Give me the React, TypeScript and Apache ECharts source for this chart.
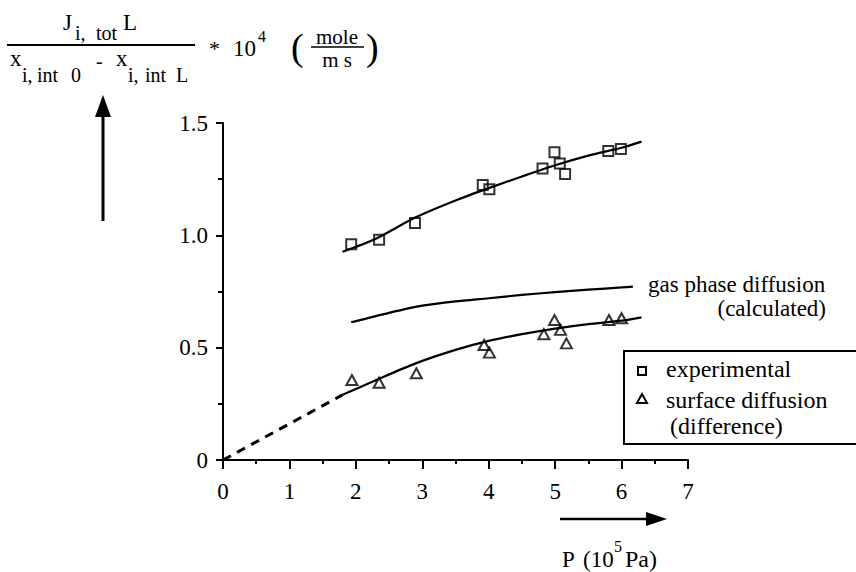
import React, { useEffect, useRef } from "react";
import * as echarts from "echarts";

const xTicks = [0, 1, 2, 3, 4, 5, 6, 7];
const yTicks = [0, 0.5, 1.0, 1.5];

const experimentalX = [1.93, 2.35, 2.89, 3.91, 4.01, 4.81, 4.99, 5.07, 5.15, 5.8, 5.99];
const experimentalY = [0.96, 0.98, 1.055, 1.224, 1.205, 1.298, 1.37, 1.32, 1.273, 1.375, 1.384];

const surfaceX = [1.94, 2.35, 2.91, 3.93, 4.01, 4.83, 4.99, 5.08, 5.17, 5.81, 6.0];
const surfaceY = [0.356, 0.344, 0.386, 0.512, 0.478, 0.56, 0.623, 0.579, 0.519, 0.623, 0.631];

const expFitX = [1.8, 2.3, 2.9, 3.5, 4.0, 4.5, 5.0, 5.5, 6.0, 6.3];
const expFitY = [0.927, 0.985, 1.08, 1.155, 1.21, 1.262, 1.312, 1.355, 1.39, 1.417];

const gasX = [1.93, 2.5, 3.0, 3.5, 4.0, 4.5, 5.0, 5.5, 6.0, 6.17];
const gasY = [0.613, 0.655, 0.687, 0.706, 0.72, 0.735, 0.747, 0.758, 0.768, 0.772];

const surfFitX = [1.8, 2.3, 2.9, 3.5, 4.0, 4.5, 5.0, 5.5, 6.0, 6.3];
const surfFitY = [0.29, 0.355, 0.43, 0.49, 0.53, 0.56, 0.585, 0.605, 0.62, 0.635];

const extrapX = [0, 1.8];
const extrapY = [0, 0.29];

const zip = (xs: number[], ys: number[]) => xs.map((x, i) => [x, ys[i]]);

const FONT = "Liberation Serif";

export default function App() {
  const ref = useRef<HTMLDivElement>(null);
  useEffect(() => {
    if (!ref.current) return;
    const chart = echarts.init(ref.current, null, { renderer: "svg" });
    const txt = (text: string, x: number, y: number, size: number, align = "left") => ({
      type: "text",
      x,
      y,
      style: {
        text,
        fontFamily: FONT,
        fontSize: size,
        fill: "#000",
        textAlign: align,
        textVerticalAlign: "middle",
      },
    });
    const lineStyle = { color: "#000", width: 2.2 };
    chart.setOption({
      animation: false,
      backgroundColor: "#fff",
      textStyle: { fontFamily: FONT, color: "#000" },
      grid: { left: 223, right: 168, top: 123, bottom: 112, containLabel: false },
      xAxis: {
        type: "value",
        min: 0,
        max: 7,
        interval: 1,
        axisLine: { show: true, onZero: false, lineStyle: { color: "#000", width: 2 } },
        axisTick: { show: true, length: 9, lineStyle: { color: "#000", width: 2 } },
        minorTick: { show: true, splitNumber: 2, length: 4, lineStyle: { color: "#000", width: 2 } },
        splitLine: { show: false },
        axisLabel: {
          color: "#000",
          fontFamily: FONT,
          fontSize: 23,
          margin: 20,
          formatter: (v: number) => (xTicks.includes(v) ? String(v) : ""),
        },
      },
      yAxis: {
        type: "value",
        min: 0,
        max: 1.5,
        interval: 0.5,
        axisLine: { show: true, onZero: false, lineStyle: { color: "#000", width: 2 } },
        axisTick: { show: true, length: 7, lineStyle: { color: "#000", width: 2 } },
        minorTick: { show: true, splitNumber: 2, length: 5, lineStyle: { color: "#000", width: 2 } },
        splitLine: { show: false },
        axisLabel: {
          color: "#000",
          fontFamily: FONT,
          fontSize: 23,
          margin: 15,
          formatter: (v: number) => {
            const t = yTicks.find((k) => Math.abs(k - v) < 1e-9);
            if (t === undefined) return "";
            return t === 0 ? "0" : t.toFixed(1);
          },
        },
      },
      series: [
        {
          name: "experimental fit",
          type: "line",
          data: zip(expFitX, expFitY),
          smooth: 0.25,
          showSymbol: false,
          lineStyle,
          z: 2,
        },
        {
          name: "gas phase diffusion (calculated)",
          type: "line",
          data: zip(gasX, gasY),
          smooth: 0.25,
          showSymbol: false,
          lineStyle,
          z: 2,
        },
        {
          name: "surface diffusion fit",
          type: "line",
          data: zip(surfFitX, surfFitY),
          smooth: 0.25,
          showSymbol: false,
          lineStyle,
          z: 2,
        },
        {
          name: "extrapolation",
          type: "line",
          data: zip(extrapX, extrapY),
          showSymbol: false,
          lineStyle: { color: "#000", width: 3, type: [9, 7] },
          z: 2,
        },
        {
          name: "experimental",
          type: "scatter",
          data: zip(experimentalX, experimentalY),
          symbol: "rect",
          symbolSize: 10,
          itemStyle: { color: "rgba(255,255,255,0)", borderColor: "#000", borderWidth: 2 },
          z: 3,
        },
        {
          name: "surface diffusion (difference)",
          type: "scatter",
          data: zip(surfaceX, surfaceY),
          symbol: "triangle",
          symbolSize: [11, 10],
          itemStyle: { color: "rgba(255,255,255,0)", borderColor: "#000", borderWidth: 2 },
          z: 3,
        },
      ],
      graphic: [
        // y-axis title formula: numerator
        txt("J", 63, 22, 23),
        txt("i,", 75, 33, 20),
        txt("tot", 96, 33, 20),
        txt("L", 123, 22, 23),
        { type: "line", shape: { x1: 7, y1: 45, x2: 195, y2: 45 }, style: { stroke: "#000", lineWidth: 2 } },
        // denominator
        txt("x", 10, 58, 23),
        txt("i,", 22, 75, 20),
        txt("int", 37, 75, 20),
        txt("0", 71, 75, 20),
        txt("-", 96, 61, 20),
        txt("x", 116, 58, 23),
        txt("i,", 128, 75, 20),
        txt("int", 145, 75, 20),
        txt("L", 176, 75, 20),
        // factor and units
        txt("*", 209, 48, 22),
        txt("10", 233, 48, 23),
        txt("4", 258, 36, 16),
        txt("(", 291, 47, 38),
        txt("mole", 337, 37, 21, "center"),
        { type: "line", shape: { x1: 311, y1: 47, x2: 364, y2: 47 }, style: { stroke: "#000", lineWidth: 1.5 } },
        txt("m s", 337, 60, 21, "center"),
        txt(")", 366, 47, 38),
        // vertical arrow
        { type: "line", shape: { x1: 103, y1: 221, x2: 103, y2: 114 }, style: { stroke: "#000", lineWidth: 3 } },
        { type: "polygon", shape: { points: [[103, 95], [95, 117], [111, 117]] }, style: { fill: "#000" } },
        // horizontal arrow
        { type: "line", shape: { x1: 560, y1: 519, x2: 650, y2: 519 }, style: { stroke: "#000", lineWidth: 2.5 } },
        { type: "polygon", shape: { points: [[667, 519], [646, 512], [646, 526]] }, style: { fill: "#000" } },
        txt("P", 562, 559, 23),
        txt("(10", 583, 559, 23),
        txt("5", 614, 546, 16),
        txt("Pa)", 625, 559, 24),
        // gas phase label
        txt("gas phase diffusion", 648, 284, 23),
        txt("(calculated)", 826, 308, 23, "right"),
        // legend
        { type: "rect", shape: { x: 624, y: 351, width: 250, height: 93 }, style: { fill: "#fff", stroke: "#000", lineWidth: 2 }, z: 10 },
        { type: "rect", shape: { x: 638, y: 367, width: 8, height: 8 }, style: { fill: "none", stroke: "#000", lineWidth: 2 }, z: 11 },
        { type: "polygon", shape: { points: [[642, 394], [637, 403], [647, 403]] }, style: { fill: "none", stroke: "#000", lineWidth: 2 }, z: 11 },
        { ...txt("experimental", 666, 369, 24), z: 11 },
        { ...txt("surface diffusion", 666, 400, 24), z: 11 },
        { ...txt("(difference)", 670, 426, 24), z: 11 },
      ],
    });
    return () => chart.dispose();
  }, []);
  return (
    <div
      ref={ref}
      style={{ position: "fixed", left: 0, top: 0, width: 856, height: 572, background: "#fff" }}
    />
  );
}
